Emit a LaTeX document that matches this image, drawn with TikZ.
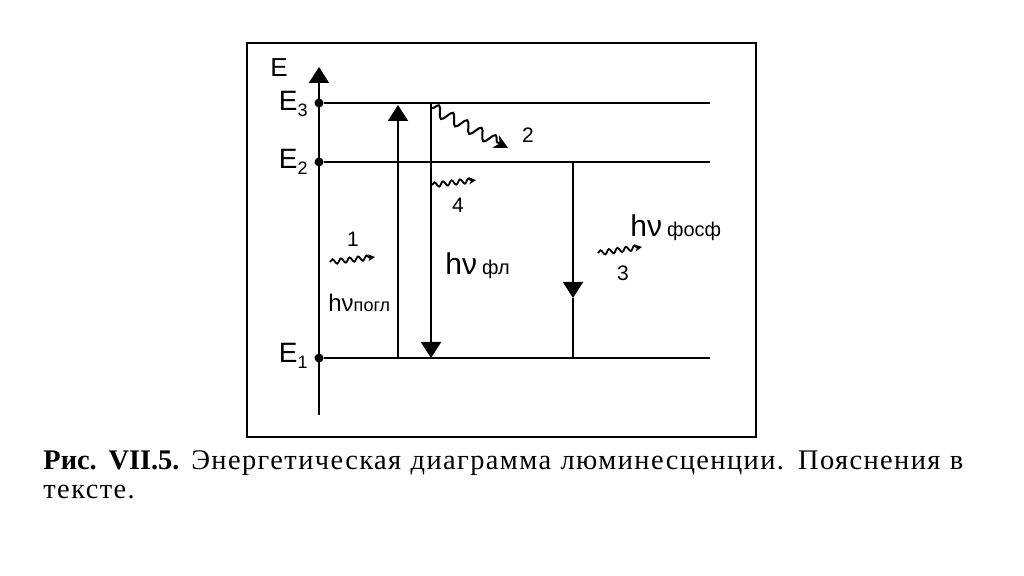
\documentclass[tikz,border=0pt]{standalone}
\usepackage{fontspec}
\setmainfont{Liberation Serif}
\newfontfamily\diagfont{Liberation Sans}
\newfontfamily\capfont[LetterSpace=5]{Liberation Serif}
\usetikzlibrary{arrows.meta,decorations.pathmorphing}

\tikzset{
	dot/.style={circle, fill, inner sep=0pt, minimum size=4.5pt},
	bigtip/.style={-{Triangle[length=8pt,width=10pt]}, line width=1pt},
	wave/.style={decorate, decoration={snake, amplitude=1.2pt, segment length=4.3pt, post length=2pt},
		-{Stealth[length=3.5pt,width=3.5pt]}, line width=0.9pt},
	bigwave/.style={decorate, decoration={snake, amplitude=2.8pt, segment length=8pt, post length=4pt},
		-{Stealth[length=7pt,width=7pt]}, line width=1pt},
	num/.style={font=\diagfont\fontsize{10.5}{10.5}\selectfont, inner sep=0pt},
	elbl/.style={font=\diagfont\fontsize{14}{14}\selectfont, anchor=base east, inner sep=0pt},
}
\newcommand{\esub}[1]{E\raisebox{-3pt}{\fontsize{9}{9}\selectfont #1}}

\begin{document}
\begin{tikzpicture}[x=0.5pt, y=-0.5pt]
		\fill[white] (0,0) rectangle (1024,576);
		\useasboundingbox (0,0) rectangle (1024,576);
		\draw[line width=0.8pt] (247,43) rectangle (756,437);

		% energy axis and levels
		\coordinate (ax0) at (319,415);
		\coordinate (axtop) at (319,67);
		\draw[bigtip] (ax0) -- (axtop);
		\draw (279,68) node [font=\diagfont\fontsize{13}{13}\selectfont, inner sep=0pt] (elab) {E};
		\draw (319,103) node [dot] (e3) {};
		\draw (319,162) node [dot] (e2) {};
		\draw (319,358) node [dot] (e1) {};
		\coordinate (e3r) at (710,103);
		\coordinate (e2r) at (710,162);
		\coordinate (e1r) at (710,358);
		\draw[line width=1pt] (e3) -- (e3r) (e2) -- (e2r) (e1) -- (e1r);
		\draw (308,111) node [elbl] (e3lab) {\esub{3}};
		\draw (308,169) node [elbl] (e2lab) {\esub{2}};
		\draw (308,363) node [elbl] (e1lab) {\esub{1}};

		% transitions
		\coordinate (abs1) at (398,358);
		\coordinate (abs3) at (398,105);
		\coordinate (fl3) at (431,103);
		\coordinate (fl1) at (431,358);
		\coordinate (ph2) at (573,162);
		\coordinate (phm) at (573,298);
		\coordinate (ph1) at (573,358);
		\draw[bigtip] (abs1) -- (abs3);
		\draw[bigtip] (fl3) -- (fl1);
		\draw[bigtip] (ph2) -- (phm);
		\draw[line width=1pt] (phm) -- (ph1);

		% wavy arrows
		\coordinate (w2a) at (432,108);
		\coordinate (w2b) at (508,148);
		\coordinate (w4a) at (432,185);
		\coordinate (w4b) at (476,180);
		\coordinate (w1a) at (330,262);
		\coordinate (w1b) at (375,257);
		\coordinate (w3a) at (598,253);
		\coordinate (w3b) at (642,247);
		\draw[bigwave] (w2a) -- (w2b);
		\draw[wave] (w4a) -- (w4b);
		\draw[wave] (w1a) -- (w1b);
		\draw[wave] (w3a) -- (w3b);
		\draw (528,135) node [num] (n2) {2};
		\draw (458,205) node [num] (n4) {4};
		\draw (353,239) node [num] (n1) {1};
		\draw (623,273) node [num] (n3) {3};

		% photon labels
		\draw (328,312) node [anchor=base west, inner sep=0pt, font=\diagfont] (hpogl)
			{\fontsize{12}{12}\selectfont hν\fontsize{9}{9}\selectfont погл};
		\draw (445,275) node [anchor=base west, inner sep=0pt, font=\diagfont] (hfl)
			{\fontsize{15}{15}\selectfont hν\,\fontsize{10}{10}\selectfont фл};
		\draw (630,237) node [anchor=base west, inner sep=0pt, font=\diagfont] (hfosf)
			{\fontsize{15}{15}\selectfont hν\,\fontsize{10}{10}\selectfont фосф};

		% caption
		\draw (43,470) node [anchor=base west, inner sep=0pt, font=\fontsize{14.2}{14.5}\selectfont] (cap1)
			{\makebox[460pt][s]{\textbf{Рис. VII.5.} \capfont Энергетическая диаграмма люминесценции. Пояснения в}};
		\draw (43,499) node [anchor=base west, inner sep=0pt, font=\capfont\fontsize{14.2}{14.5}\selectfont] (cap2) {тексте.};
	\end{tikzpicture}
\end{document}
